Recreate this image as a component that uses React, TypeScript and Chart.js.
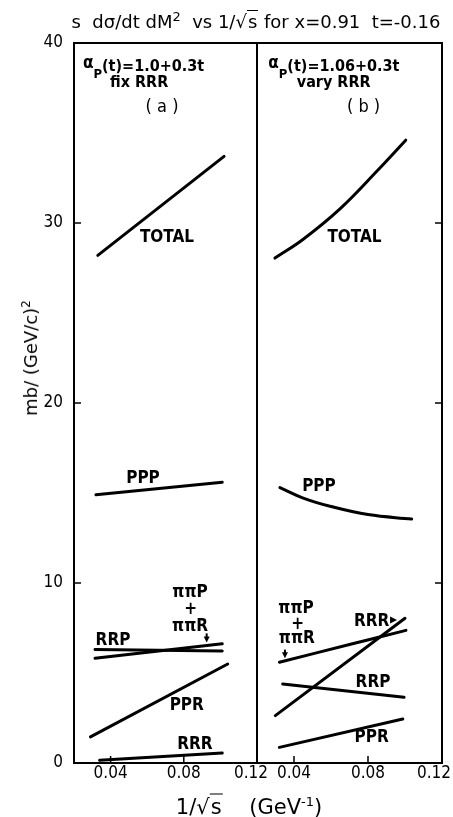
import { useEffect, useRef } from 'react';
import { Chart, registerables } from 'chart.js';

Chart.register(...registerables);

const FONT = '"DejaVu Sans Condensed", "DejaVu Sans", sans-serif';
const WIDE_FONT = '"DejaVu Sans", sans-serif';

// Panel (a): alpha_P(t) = 1.0 + 0.3t, RRR held fixed
const totalA_x = [0.033, 0.102];
const totalA_y = [28.2, 33.7];
const pppA_x = [0.032, 0.101];
const pppA_y = [14.9, 15.6];
const rrpA_x = [0.0315, 0.101];
const rrpA_y = [6.3, 6.22];
const pipiA_x = [0.0315, 0.101];
const pipiA_y = [5.82, 6.62];
const pprA_x = [0.029, 0.104];
const pprA_y = [1.45, 5.5];
const rrrA_x = [0.034, 0.101];
const rrrA_y = [0.15, 0.55];

// Panel (b): alpha_P(t) = 1.06 + 0.3t, RRR varied
const totalB_x = [0.0297, 0.045, 0.065, 0.085, 0.1004];
const totalB_y = [28.05, 29.1, 30.8, 32.9, 34.6];
const pppB_x = [0.0324, 0.045, 0.06, 0.08, 0.1036];
const pppB_y = [15.3, 14.72, 14.25, 13.8, 13.55];
const pipiB_x = [0.0321, 0.07, 0.1005];
const pipiB_y = [5.6, 6.58, 7.37];
const rrrB_x = [0.0299, 0.1];
const rrrB_y = [2.63, 8.04];
const rrpB_x = [0.0339, 0.0995];
const rrpB_y = [4.39, 3.65];
const pprB_x = [0.0321, 0.0988];
const pprB_y = [0.87, 2.44];

const xTickValues = [0.04, 0.08, 0.12];
const innerXTicks = [0.04, 0.08];
const innerYTicks = [10, 20, 30];
const X_MIN = 0.02;
const X_MAX = 0.12;
const Y_MIN = 0;
const Y_MAX = 40;

type Series = { xs: number[]; ys: number[] };
type Note = { text: string; x: number; y: number; bold?: boolean; size?: number };
type Arrow = { x: number; y0: number; y1: number };
type Header = { x: number; y: number; rest: string; sub: string; subX: number; subY: number };
type Panel = {
  series: Series[];
  header: Header;
  notes: Note[];
  downArrows: Arrow[];
  rightHead?: { x: number; y: number };
  showYAxis: boolean;
  yTickSide: 'left' | 'right';
  left: number;
  width: number;
  padLeft: number;
  padRight: number;
};

const panelA: Panel = {
  series: [
    { xs: totalA_x, ys: totalA_y },
    { xs: pppA_x, ys: pppA_y },
    { xs: rrpA_x, ys: rrpA_y },
    { xs: pipiA_x, ys: pipiA_y },
    { xs: pprA_x, ys: pprA_y },
    { xs: rrrA_x, ys: rrrA_y },
  ],
  header: { x: 0.0249, y: 38.6, rest: '(t)=1.0+0.3t', sub: 'fix RRR', subX: 0.0397, subY: 37.55 },
  notes: [
    { text: '( a )', x: 0.0681, y: 36.4, bold: false, size: 18 },
    { text: 'TOTAL', x: 0.0708, y: 29.2 },
    { text: 'PPP', x: 0.0577, y: 15.8 },
    { text: 'ππP', x: 0.0834, y: 9.45 },
    { text: '+', x: 0.0838, y: 8.55 },
    { text: 'ππR', x: 0.0834, y: 7.6 },
    { text: 'RRP', x: 0.0413, y: 6.8 },
    { text: 'PPR', x: 0.0816, y: 3.2 },
    { text: 'RRR', x: 0.0861, y: 1.0 },
  ],
  downArrows: [{ x: 0.0925, y0: 7.2, y1: 6.7 }],
  showYAxis: true,
  yTickSide: 'left',
  left: 0,
  width: 270,
  padLeft: 0,
  padRight: 13,
};

const panelB: Panel = {
  series: [
    { xs: totalB_x, ys: totalB_y },
    { xs: pppB_x, ys: pppB_y },
    { xs: pipiB_x, ys: pipiB_y },
    { xs: rrrB_x, ys: rrrB_y },
    { xs: rrpB_x, ys: rrpB_y },
    { xs: pprB_x, ys: pprB_y },
  ],
  header: { x: 0.0261, y: 38.6, rest: '(t)=1.06+0.3t', sub: 'vary RRR', subX: 0.0415, subY: 37.55 },
  notes: [
    { text: '( b )', x: 0.0776, y: 36.4, bold: false, size: 18 },
    { text: 'TOTAL', x: 0.0727, y: 29.2 },
    { text: 'PPP', x: 0.0535, y: 15.35 },
    { text: 'ππP', x: 0.0411, y: 8.6 },
    { text: '+', x: 0.042, y: 7.7 },
    { text: 'ππR', x: 0.0415, y: 6.9 },
    { text: 'RRR', x: 0.082, y: 7.85 },
    { text: 'RRP', x: 0.0827, y: 4.45 },
    { text: 'PPR', x: 0.082, y: 1.4 },
  ],
  downArrows: [{ x: 0.0351, y0: 6.3, y1: 5.82 }],
  rightHead: { x: 0.0957, y: 7.95 },
  showYAxis: false,
  yTickSide: 'right',
  left: 240,
  width: 213,
  padLeft: 17,
  padRight: 11,
};

// Frame, inward tick marks, x tick labels and in-plot lettering
const decorPlugin = {
  id: 'panelDecor',
  afterDatasetsDraw(chart: any, _args: any, opts: any) {
    const p: Panel = opts.panel;
    const { ctx, chartArea: a } = chart;
    const xs = chart.scales.x;
    const ys = chart.scales.y;
    ctx.save();
    ctx.strokeStyle = '#000';
    ctx.fillStyle = '#000';

    ctx.lineWidth = 2;
    ctx.strokeRect(a.left, a.top, a.right - a.left, a.bottom - a.top);

    ctx.lineWidth = 1.5;
    ctx.beginPath();
    for (const v of innerXTicks) {
      const px = xs.getPixelForValue(v);
      ctx.moveTo(px, a.bottom);
      ctx.lineTo(px, a.bottom - 7);
    }
    for (const v of innerYTicks) {
      const py = ys.getPixelForValue(v);
      const x0 = p.yTickSide === 'left' ? a.left : a.right;
      const d = p.yTickSide === 'left' ? 7 : -7;
      ctx.moveTo(x0, py);
      ctx.lineTo(x0 + d, py);
    }
    ctx.stroke();

    ctx.font = `17px ${FONT}`;
    ctx.textAlign = 'center';
    ctx.textBaseline = 'middle';
    for (const v of xTickValues) {
      const label = v.toFixed(2);
      const w = ctx.measureText(label).width;
      const px = Math.min(xs.getPixelForValue(v), chart.width - w / 2 - 2);
      ctx.fillText(label, px, a.bottom + 11);
    }

    // header: alpha with subscript P, trajectory, and note below
    const h = p.header;
    const hx = xs.getPixelForValue(h.x);
    const hy = ys.getPixelForValue(h.y);
    ctx.textAlign = 'left';
    ctx.textBaseline = 'alphabetic';
    ctx.font = `bold 17px ${FONT}`;
    ctx.fillText('α', hx, hy);
    const aw = ctx.measureText('α').width;
    ctx.font = `bold 13px ${FONT}`;
    ctx.fillText('P', hx + aw, hy + 10);
    const pw = ctx.measureText('P').width;
    ctx.font = `bold 16px ${FONT}`;
    ctx.fillText(h.rest, hx + aw + pw, hy + 3);
    ctx.fillText(h.sub, xs.getPixelForValue(h.subX), ys.getPixelForValue(h.subY));

    ctx.textAlign = 'center';
    ctx.textBaseline = 'middle';
    for (const n of p.notes) {
      const bold = n.bold === false ? '' : 'bold ';
      ctx.font = `${bold}${n.size ?? 17}px ${FONT}`;
      ctx.fillText(n.text, xs.getPixelForValue(n.x), ys.getPixelForValue(n.y));
    }

    for (const ar of p.downArrows) {
      const px = xs.getPixelForValue(ar.x);
      const y0 = ys.getPixelForValue(ar.y0);
      const y1 = ys.getPixelForValue(ar.y1);
      ctx.lineWidth = 2;
      ctx.beginPath();
      ctx.moveTo(px, y0);
      ctx.lineTo(px, y1 - 5);
      ctx.stroke();
      ctx.beginPath();
      ctx.moveTo(px - 3, y1 - 6);
      ctx.lineTo(px + 3, y1 - 6);
      ctx.lineTo(px, y1);
      ctx.closePath();
      ctx.fill();
    }

    if (p.rightHead) {
      const px = xs.getPixelForValue(p.rightHead.x);
      const py = ys.getPixelForValue(p.rightHead.y);
      ctx.beginPath();
      ctx.moveTo(px - 7, py - 3.5);
      ctx.lineTo(px, py);
      ctx.lineTo(px - 7, py + 3.5);
      ctx.closePath();
      ctx.fill();
    }
    ctx.restore();
  },
};

function PanelChart({ panel }: { panel: Panel }) {
  const ref = useRef<HTMLCanvasElement | null>(null);

  useEffect(() => {
    if (!ref.current) return;
    const chart = new Chart(ref.current, {
      type: 'line',
      data: {
        datasets: panel.series.map((s) => ({
          data: s.xs.map((x, i) => ({ x, y: s.ys[i] })),
          borderColor: '#000',
          borderWidth: 3,
          pointRadius: 0,
          fill: false,
          borderCapStyle: 'round' as const,
          tension: s.xs.length > 2 ? 0.4 : 0,
        })),
      },
      options: {
        animation: false,
        responsive: false,
        devicePixelRatio: 1,
        layout: { padding: { top: 43, bottom: 0, left: panel.padLeft, right: panel.padRight } },
        plugins: {
          legend: { display: false },
          tooltip: { enabled: false },
          panelDecor: { panel },
        } as any,
        scales: {
          x: {
            type: 'linear',
            min: X_MIN,
            max: X_MAX,
            grid: { display: false },
            border: { display: false },
            ticks: { display: false },
            afterFit: (s: any) => {
              s.height = 54;
            },
          },
          y: {
            type: 'linear',
            display: panel.showYAxis,
            min: Y_MIN,
            max: Y_MAX,
            grid: { display: false },
            border: { display: false },
            ticks: {
              stepSize: 10,
              padding: 3,
              color: '#000',
              font: { family: FONT, size: 17 },
            },
            afterFit: (s: any) => {
              s.width = panel.showYAxis ? 74 : 0;
            },
          },
        },
      },
      plugins: [decorPlugin],
    });
    return () => chart.destroy();
  }, [panel]);

  return (
    <div style={{ position: 'absolute', left: panel.left, top: 0, width: panel.width, height: 817 }}>
      <canvas ref={ref} width={panel.width} height={817} style={{ display: 'block' }} />
    </div>
  );
}

const overline = { borderTop: '1.5px solid #000', paddingLeft: 1, paddingRight: 1 };

export default function App() {
  return (
    <div
      style={{
        position: 'absolute',
        left: 0,
        top: 0,
        width: 453,
        height: 817,
        overflow: 'hidden',
        background: '#fff',
        color: '#000',
        fontFamily: WIDE_FONT,
      }}
    >
      <PanelChart panel={panelA} />
      <PanelChart panel={panelB} />
      <div
        style={{
          position: 'absolute',
          left: 56,
          top: 6,
          width: 400,
          textAlign: 'center',
          fontSize: 18,
          lineHeight: '22px',
          whiteSpace: 'nowrap',
        }}
      >
        s&nbsp; dσ/dt dM<sup style={{ fontSize: 13 }}>2</sup>&nbsp; vs 1/√<span style={overline}>s</span> for
        x=0.91&nbsp; t=-0.16
      </div>
      <div
        style={{
          position: 'absolute',
          left: 30,
          top: 358,
          transform: 'translate(-50%, -50%) rotate(-90deg)',
          fontSize: 18,
          whiteSpace: 'nowrap',
        }}
      >
        mb/ (GeV/c)<sup style={{ fontSize: 12 }}>2</sup>
      </div>
      <div
        style={{
          position: 'absolute',
          left: 249,
          top: 806,
          transform: 'translate(-50%, -50%)',
          fontSize: 21,
          whiteSpace: 'nowrap',
        }}
      >
        1/√<span style={overline}>s</span>&nbsp;&nbsp;&nbsp; (GeV<sup style={{ fontSize: 13 }}>-1</sup>)
      </div>
    </div>
  );
}
